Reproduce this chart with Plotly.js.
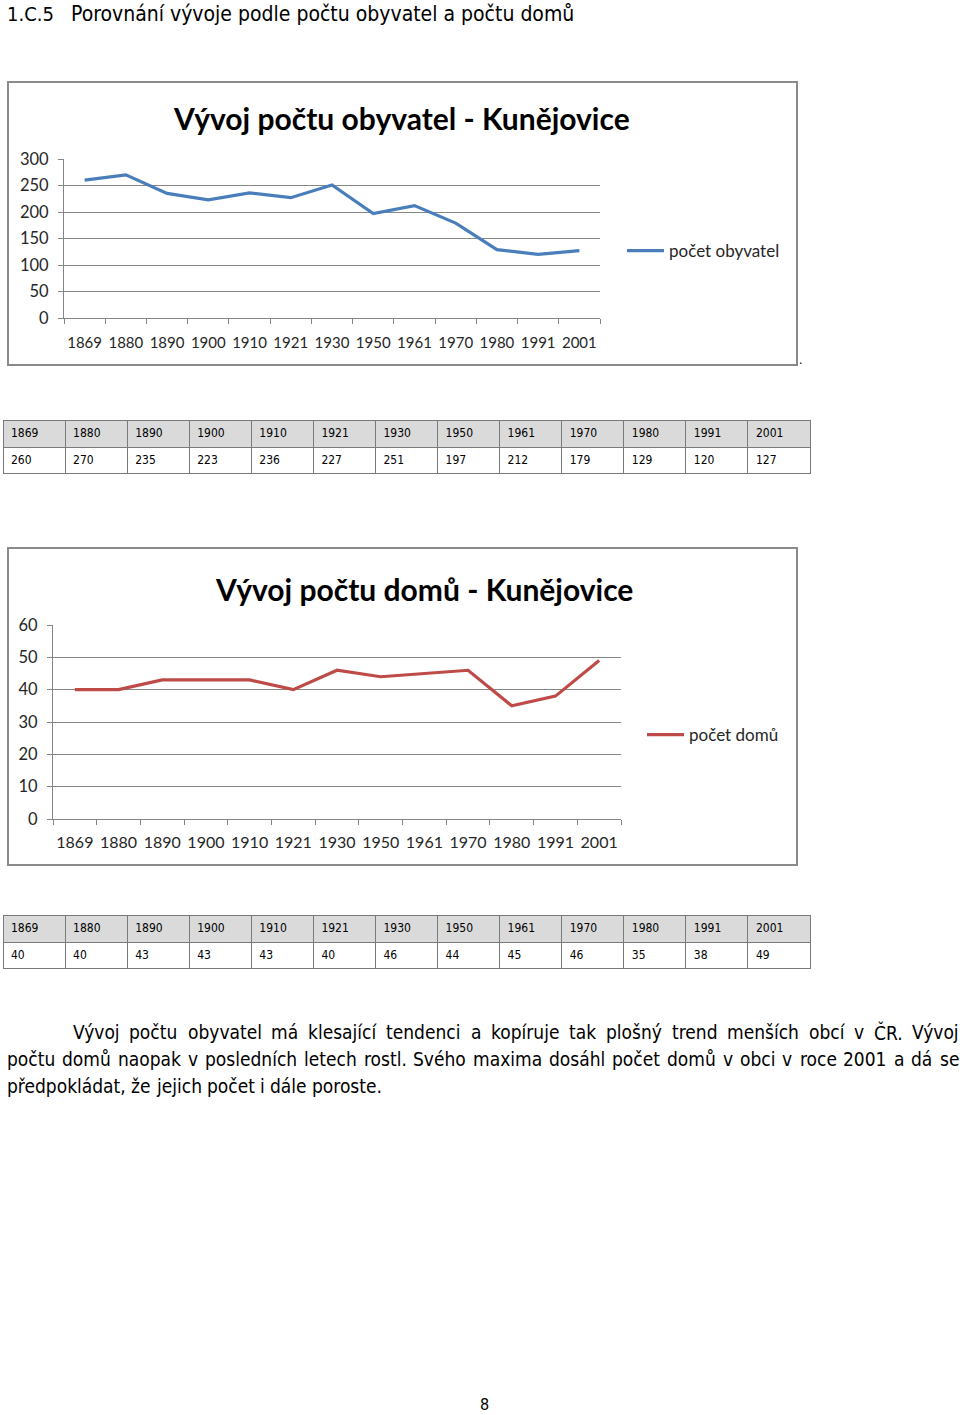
<!DOCTYPE html>
<html><head><meta charset="utf-8">
<script src="https://cdn.plot.ly/plotly-3.0.1.min.js"></script>
<style>html,body{margin:0;padding:0;background:#fff}#page{width:960px;height:1415px}</style>
</head><body><div id="page"></div>
<script>
// ---- data ----
const years = ['1869','1880','1890','1900','1910','1921','1930','1950','1961','1970','1980','1991','2001'];
const population = [260,270,235,223,236,227,251,197,212,179,129,120,127];
const houses = [40,40,43,43,43,40,46,44,45,46,35,38,49];
const popTitle = 'Vývoj počtu obyvatel - Kunějovice';
const houseTitle = 'Vývoj počtu domů - Kunějovice';
const popLegend = 'počet obyvatel';
const houseLegend = 'počet domů';
const headingNum = '1.C.5';
const headingText = 'Porovnání vývoje podle počtu obyvatel a počtu domů';
const paragraphLines = [
  'Vývoj počtu obyvatel má klesající tendenci a kopíruje tak plošný trend menších obcí v ČR. Vývoj',
  'počtu domů naopak v posledních letech rostl. Svého maxima dosáhl počet domů v obci v roce 2001 a dá se',
  'předpokládat, že jejich počet i dále poroste.'
];
const pageNumber = '8';

// ---- layout helpers ----
const W = 960, H = 1415;
const px = x => x / W;
const py = y => 1 - y / H;
const chartFont = 'Lato, "Open Sans", sans-serif';
const docFont = '"DejaVu Sans Condensed", "DejaVu Sans", sans-serif';
const gridC = '#868686';
const txtC = '#262626';

function xAxis(domain, anchor, size, standoff) {
  return {domain: domain, anchor: anchor, type: 'category', range: [-0.5, years.length - 0.5],
    tickson: 'boundaries', ticks: 'outside', ticklen: 5, tickcolor: gridC, showline: true,
    linecolor: gridC, linewidth: 1, showgrid: false, zeroline: false, fixedrange: true, tickangle: 0,
    ticklabelstandoff: standoff,
    tickfont: {family: chartFont, size: size, color: txtC}};
}
function yAxis(domain, anchor, max, dtick) {
  return {domain: domain, anchor: anchor, range: [0, max], dtick: dtick, ticks: 'outside', ticklen: 5,
    tickcolor: gridC, showline: true, linecolor: gridC, linewidth: 1, gridcolor: gridC, gridwidth: 1,
    zeroline: false, fixedrange: true, ticklabelstandoff: 6,
    tickfont: {family: chartFont, size: 16.5, color: txtC}};
}
function table(vals, top, bottom) {
  const tf = {family: docFont, size: 12, color: '#000'};
  return {type: 'table', domain: {x: [px(3), px(810)], y: [py(bottom), py(top)]},
    columnwidth: years.map(() => 1),
    header: {values: years, align: 'left', height: 27, fill: {color: '#dadada'},
      line: {color: '#7a7a7a', width: 1}, font: tf},
    cells: {values: vals.map(v => [String(v)]), align: 'left', height: 26, fill: {color: '#ffffff'},
      line: {color: '#7a7a7a', width: 1}, font: tf}};
}

const traces = [
  {type: 'scatter', mode: 'lines', x: years, y: population, xaxis: 'x', yaxis: 'y', name: popLegend,
   legend: 'legend', line: {color: '#4A7EBB', width: 3.2}, hoverinfo: 'skip'},
  {type: 'scatter', mode: 'lines', x: years, y: houses, xaxis: 'x2', yaxis: 'y2', name: houseLegend,
   legend: 'legend2', line: {color: '#BE4B48', width: 3.2}, hoverinfo: 'skip'},
  table(population, 420, 476),
  table(houses, 915, 971)
];

function ann(text, x, y, font, xanchor) {
  return {text: text, xref: 'paper', yref: 'paper', x: px(x), y: py(y), xanchor: xanchor || 'left',
    yanchor: 'middle', showarrow: false, font: font};
}
const annotations = [
  ann(headingNum, 5, 14, {family: docFont, size: 20, color: '#000'}),
  ann(headingText, 69, 14, {family: docFont, size: 21, color: '#000'}),
  ann('<b>' + popTitle + '</b>', 401, 118, {family: chartFont, size: 30, color: '#000'}, 'center'),
  ann('<b>' + houseTitle + '</b>', 424, 589, {family: chartFont, size: 30, color: '#000'}, 'center'),
  ann('.', 797, 360, {family: docFont, size: 12, color: '#000'}),
  ann(pageNumber, 484, 1404, {family: docFont, size: 16, color: '#000'}, 'center')
];

// paragraph with justified lines
const pSize = 19;
const canvas = document.createElement('canvas');
const ctx = canvas.getContext('2d');
ctx.font = pSize + 'px "DejaVu Sans Condensed", "DejaVu Sans"';
const lineSpecs = [{y: 1032, x0: 72, x1: 958, justify: true},
                   {y: 1059, x0: 6, x1: 958, justify: true},
                   {y: 1086, x0: 6, x1: 958, justify: false}];
paragraphLines.forEach((line, i) => {
  const s = lineSpecs[i];
  const words = line.split(' ');
  const widths = words.map(w => ctx.measureText(w).width);
  const total = widths.reduce((a, b) => a + b, 0);
  const gap = s.justify ? (s.x1 - s.x0 - total) / (words.length - 1) : ctx.measureText(' ').width;
  let x = s.x0;
  words.forEach((w, k) => {
    annotations.push(ann(w, x - 1, s.y, {family: docFont, size: pSize, color: '#000'}));
    x += widths[k] + gap;
  });
});

const shapes = [
  {type: 'rect', xref: 'paper', yref: 'paper', x0: px(8), x1: px(797), y0: py(82), y1: py(365),
   line: {color: '#8a8a8a', width: 2}},
  {type: 'rect', xref: 'paper', yref: 'paper', x0: px(8), x1: px(797), y0: py(548), y1: py(865),
   line: {color: '#8a8a8a', width: 2}}
];

const layout = {
  width: W, height: H, margin: {l: 0, r: 0, t: 0, b: 0}, paper_bgcolor: '#fff', plot_bgcolor: 'rgba(0,0,0,0)',
  showlegend: true,
  xaxis: xAxis([px(64), px(600)], 'y', 15, 11),
  yaxis: yAxis([py(318), py(159)], 'x', 300, 50),
  xaxis2: xAxis([px(53), px(621)], 'y2', 16, 9),
  yaxis2: yAxis([py(819), py(625)], 'x2', 60, 10),
  legend: {x: px(622), y: py(251), xanchor: 'left', yanchor: 'middle', bgcolor: 'rgba(0,0,0,0)',
    itemwidth: 37, font: {family: chartFont, size: 17, color: txtC}},
  legend2: {x: px(642), y: py(735), xanchor: 'left', yanchor: 'middle', bgcolor: 'rgba(0,0,0,0)',
    itemwidth: 37, font: {family: chartFont, size: 17, color: txtC}},
  annotations: annotations,
  shapes: shapes
};

Plotly.newPlot('page', traces, layout, {displayModeBar: false, staticPlot: true});
</script>
</body></html>
